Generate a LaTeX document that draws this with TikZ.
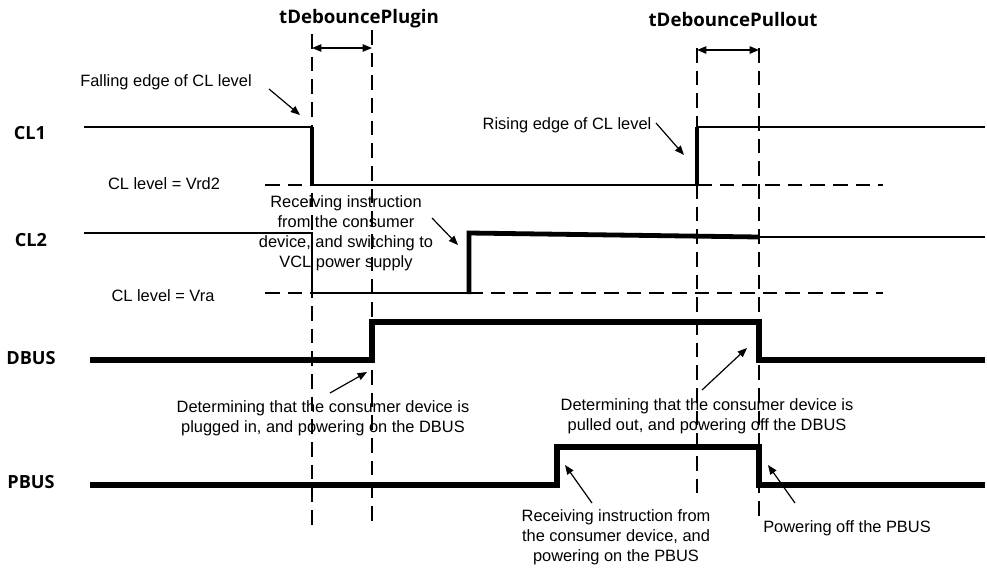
\documentclass[tikz,border=0pt]{standalone}
\usepackage{fontspec}
\setmainfont{Liberation Sans}
\newfontfamily\sigfont{Open Sans}
\usetikzlibrary{arrows.meta}

\begin{document}
\begin{tikzpicture}[x=0.75pt,y=-0.75pt,
  note/.style={font=\fontsize{12.3}{15}\selectfont, align=center, inner sep=0pt},
  signame/.style={font=\sigfont\bfseries\fontsize{13.6}{16}\selectfont, inner sep=0pt},
  period/.style={font=\sigfont\bfseries\fontsize{14}{16}\selectfont, inner sep=0pt},
  levelline/.style={line width=2pt, line join=miter},
  edgeline/.style={line width=3pt},
  heavyline/.style={line width=3.6pt, line join=miter},
  busline/.style={line width=4.8pt, line join=miter},
  guide/.style={line width=1pt, dash pattern=on 11pt off 6pt},
  pointer/.style={line width=0.9pt, -{Triangle[length=7pt,width=5.5pt]}},
  span/.style={line width=1.1pt, {Triangle[length=7pt,width=5.5pt]}-{Triangle[length=7pt,width=5.5pt]}}]
\useasboundingbox (0,0) rectangle (987,568);

% time markers
\coordinate (p1t) at (312,34);  \coordinate (p1b) at (312,525);
\coordinate (p2t) at (372,30);  \coordinate (p2b) at (372,525);
\coordinate (q1t) at (697,48);  \coordinate (q1b) at (697,500);
\coordinate (q2t) at (759,48);  \coordinate (q2b) at (759,518);
\draw[guide] (p1t) -- (p1b);
\draw[guide] (p2t) -- (p2b);
\draw[guide] (q1t) -- (q1b);
\draw[guide] (q2t) -- (q2b);

% debounce intervals
\node[period] (plugin) at (359,19) {tDebouncePlugin};
\node[period] (pullout) at (733,19) {tDebouncePullout};
\coordinate (pa) at (312,48); \coordinate (pb) at (372,48);
\coordinate (qa) at (697,50); \coordinate (qb) at (759,50);
\draw[span] (pa) -- (pb);
\draw[span] (qa) -- (qb);

% signal names
\node[signame] (cl1) at (30,133) {CL1};
\node[signame] (cl2) at (31,240) {CL2};
\node[signame] (dbus) at (31,358) {DBUS};
\node[signame] (pbus) at (31,482) {PBUS};

% reference levels
\coordinate (v1a) at (265,185); \coordinate (v1b) at (312,185);
\coordinate (v1c) at (697,185); \coordinate (v1d) at (883,185);
\coordinate (v2a) at (265,293); \coordinate (v2b) at (312,293);
\coordinate (v2c) at (468,293); \coordinate (v2d) at (883,293);
\draw[guide] (v1a) -- (v1b);
\draw[guide] (v1c) -- (v1d);
\draw[guide] (v2a) -- (v2b);
\draw[guide] (v2c) -- (v2d);
\node[note] (vrd2) at (164,184) {CL level = Vrd2};
\node[note] (vra) at (163,296) {CL level = Vra};

% CL1
\draw[levelline] (84,127) -- (312,127) -- (312,185) -- (697,185) -- (697,127) -- (985,127);
\draw[edgeline] (312,127) -- (312,186);
\draw[edgeline] (697,186) -- (697,127);

% CL2
\draw[levelline] (84,233) -- (312,233) -- (312,293) -- (469,293);
\draw[heavyline] (469,294) -- (469,233) -- (759,237);
\draw[levelline] (759,237) -- (985,237);

% DBUS
\draw[busline] (90,360) -- (372,360) -- (372,322) -- (759,322) -- (759,360) -- (985,360);

% PBUS
\draw[busline] (90,485) -- (557,485) -- (557,447) -- (759,447) -- (759,485) -- (985,485);

% annotations
\node[note] (fall) at (166,82) {Falling edge of CL level};
\coordinate (fallA) at (269,89); \coordinate (fallB) at (300,115);
\draw[pointer] (fallA) -- (fallB);

\node[note] (rise) at (567,125) {Rising edge of CL level};
\coordinate (riseA) at (656,123); \coordinate (riseB) at (684,155);
\draw[pointer] (riseA) -- (riseB);

\node[note] (recv1) at (346,233) {Receiving instruction\\from the consumer\\device, and switching to\\VCL power supply};
\coordinate (recv1A) at (432,218); \coordinate (recv1B) at (458,245);
\draw[pointer] (recv1A) -- (recv1B);

\node[note] (plug) at (323,418) {Determining that the consumer device is\\plugged in, and powering on the DBUS};
\coordinate (plugA) at (330,393); \coordinate (plugB) at (367,372);
\draw[pointer] (plugA) -- (plugB);

\node[note] (pull) at (707,416) {Determining that the consumer device is\\pulled out, and powering off the DBUS};
\coordinate (pullA) at (702,390); \coordinate (pullB) at (747,348);
\draw[pointer] (pullA) -- (pullB);

\node[note] (recv2) at (616,537) {Receiving instruction from\\the consumer device, and\\powering on the PBUS};
\coordinate (recv2A) at (592,503); \coordinate (recv2B) at (565,465);
\draw[pointer] (recv2A) -- (recv2B);

\node[note] (poff) at (847,528) {Powering off the PBUS};
\coordinate (poffA) at (795,503); \coordinate (poffB) at (768,465);
\draw[pointer] (poffA) -- (poffB);
\end{tikzpicture}
\end{document}
